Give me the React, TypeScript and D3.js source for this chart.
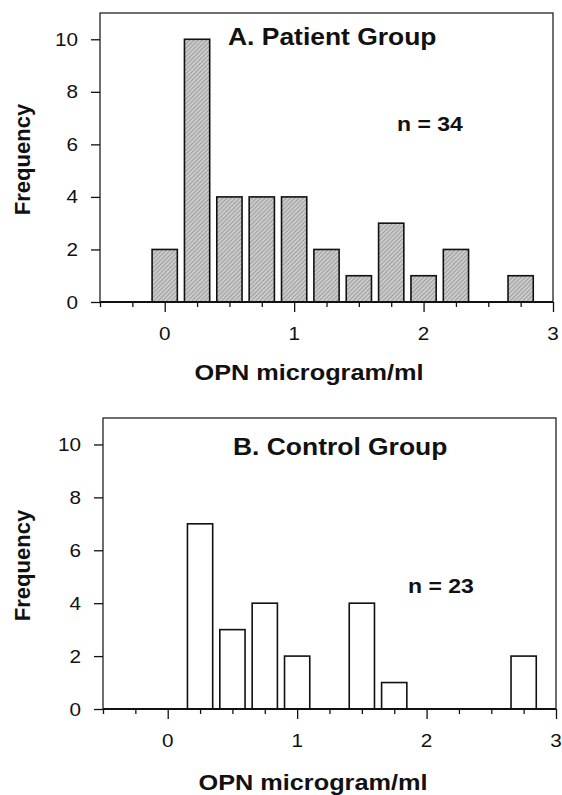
import React, { useEffect, useRef } from 'react';
import * as d3 from 'd3';

// bin centres (OPN microgram/ml), bin width 0.25
const binCenters = [0, 0.25, 0.5, 0.75, 1.0, 1.25, 1.5, 1.75, 2.0, 2.25, 2.5, 2.75];
const patientCounts = [2, 10, 4, 4, 4, 2, 1, 3, 1, 2, 0, 1];
const controlCounts = [0, 7, 3, 4, 2, 0, 4, 1, 0, 0, 0, 2];

const xMajorTicks = [0, 1, 2, 3];
const xMinorTicks = [-0.5, -0.25, 0.25, 0.5, 0.75, 1.25, 1.5, 1.75, 2.25, 2.5, 2.75];
const yTicks = [0, 2, 4, 6, 8, 10];

const panels = [
  { title: 'A. Patient Group', n: 'n = 34', counts: patientCounts, filled: true, left: 100, right: 553, top: 13, bottom: 302, titleX: 228, titleY: 45, nX: 397, nY: 131, xLabelX: 309, xLabelY: 380 },
  { title: 'B. Control Group', n: 'n = 23', counts: controlCounts, filled: false, left: 103, right: 556, top: 418, bottom: 709, titleX: 233, titleY: 455, nX: 408, nY: 593, xLabelX: 313, xLabelY: 790 },
];

const FONT = '"Liberation Sans", Arial, sans-serif';
const STRETCH = 1.15;

const App = () => {
  const ref = useRef<SVGSVGElement | null>(null);

  useEffect(() => {
    if (!ref.current) return;
    const svg = d3.select(ref.current);
    svg.selectAll('*').remove();

    const defs = svg.append('defs');
    const pat = defs.append('pattern')
      .attr('id', 'hatch')
      .attr('patternUnits', 'userSpaceOnUse')
      .attr('width', 3)
      .attr('height', 3)
      .attr('patternTransform', 'rotate(45)');
    pat.append('rect').attr('width', 3).attr('height', 3).attr('fill', '#cbcbcb');
    pat.append('line').attr('x1', 0).attr('y1', 0).attr('x2', 0).attr('y2', 3)
      .attr('stroke', '#808080').attr('stroke-width', 1.2);

    // horizontal text in the scan is stretched a little wider than tall
    const hText = (g, x, y, str, size, weight, anchor) => {
      g.append('text')
        .attr('transform', `translate(${x},${y}) scale(${STRETCH},1)`)
        .attr('text-anchor', anchor)
        .style('font-family', FONT)
        .style('font-size', `${size}px`)
        .style('font-weight', weight)
        .attr('fill', '#111')
        .text(str);
    };

    panels.forEach((p) => {
      const g = svg.append('g');
      const x = d3.scaleLinear().domain([-0.5, 3]).range([p.left, p.right]);
      const y = d3.scaleLinear().domain([0, 11]).range([p.bottom, p.top]);
      const barW = x(0.195) - x(0);

      // bars
      g.selectAll('rect.bar')
        .data(binCenters.map((c, i) => ({ c, v: p.counts[i] })).filter(d => d.v > 0))
        .enter()
        .append('rect')
        .attr('class', 'bar')
        .attr('x', d => x(d.c) - barW / 2)
        .attr('width', barW)
        .attr('y', d => y(d.v))
        .attr('height', d => y(0) - y(d.v))
        .attr('fill', p.filled ? 'url(#hatch)' : '#fff')
        .attr('stroke', '#111')
        .attr('stroke-width', 1.6);

      // frame
      g.append('rect')
        .attr('x', p.left).attr('y', p.top)
        .attr('width', p.right - p.left).attr('height', p.bottom - p.top)
        .attr('fill', 'none').attr('stroke', '#222').attr('stroke-width', 1.3);
      g.append('line')
        .attr('x1', p.left).attr('x2', p.right)
        .attr('y1', p.bottom).attr('y2', p.bottom)
        .attr('stroke', '#111').attr('stroke-width', 1.8);

      // ticks
      const xMinor = g.append('g').attr('transform', `translate(0,${p.bottom})`)
        .call(d3.axisBottom(x).tickValues(xMinorTicks).tickSize(5).tickFormat(() => ''));
      const xMajor = g.append('g').attr('transform', `translate(0,${p.bottom})`)
        .call(d3.axisBottom(x).tickValues(xMajorTicks).tickSize(10).tickFormat(() => ''));
      const yAx = g.append('g').attr('transform', `translate(${p.left},0)`)
        .call(d3.axisLeft(y).tickValues(yTicks).tickSize(9).tickFormat(() => ''));
      [xMinor, xMajor, yAx].forEach((a) => {
        a.select('.domain').remove();
        a.selectAll('line').attr('stroke', '#111').attr('stroke-width', 1.3);
      });

      // tick labels
      xMajorTicks.forEach((t) => hText(g, x(t), p.bottom + 38, String(t), 18, 'normal', 'middle'));
      yTicks.forEach((t) => hText(g, p.left - 22, y(t) + 6.5, String(t), 18, 'normal', 'end'));

      // titles and labels
      hText(g, p.titleX, p.titleY, p.title, 23, 'bold', 'start');
      hText(g, p.nX, p.nY, p.n, 20, 'bold', 'start');
      hText(g, p.xLabelX, p.xLabelY, 'OPN microgram/ml', 22, 'bold', 'middle');

      g.append('text')
        .attr('transform', `translate(${30},${(p.top + p.bottom) / 2 + 2}) rotate(-90)`)
        .attr('text-anchor', 'middle')
        .style('font-family', FONT)
        .style('font-size', '22px')
        .style('font-weight', 'bold')
        .attr('fill', '#111')
        .text('Frequency');
    });
  }, []);

  return (
    <svg
      ref={ref}
      width={562}
      height={795}
      style={{ position: 'absolute', left: 0, top: 0, background: '#fff' }}
    />
  );
};

export default App;
